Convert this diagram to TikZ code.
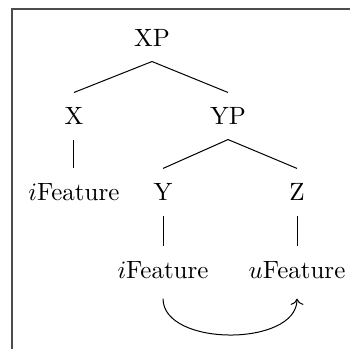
\documentclass[tikz,border=0pt]{standalone}
\usetikzlibrary{arrows.meta, positioning}

\begin{document}
\begin{tikzpicture}[
    label_node/.style={
        inner sep=5.8pt,
        font=\normalsize
    },
    branch/.style={
        thin,
        #1
    },
    agree/.style={
        ->,
        thin,
        shorten <=2pt,
        shorten >=2pt
    },
    frame_line/.style={
        line width=0.8pt,
        draw=black!70
    },
]
\useasboundingbox (0,0) rectangle (4.921,-4.907);

% frame
\draw[frame_line] (0.169,-4.907) -- (0.169,-0.120) -- (4.921,-0.120);

\node[label_node] (xp) at (2.137,-0.534) {XP};

\node[label_node] (x) at (1.040,-1.631) {X};
\node[label_node] (yp) at (3.206,-1.631) {YP};

\node[label_node] (ifeat1) at (1.040,-2.699) {$i$Feature};
\node[label_node] (y) at (2.292,-2.699) {Y};
\node[label_node] (z) at (4.176,-2.699) {Z};

\node[label_node] (ifeat2) at (2.292,-3.796) {$i$Feature};
\node[label_node] (ufeat) at (4.176,-3.796) {$u$Feature};

% tree branches
\draw[branch] (xp.south) -- (x.north);
\draw[branch] (xp.south) -- (yp.north);
\draw[branch] (x.south) -- (ifeat1.north);
\draw[branch] (yp.south) -- (y.north);
\draw[branch] (yp.south) -- (z.north);
\draw[branch] (y.south) -- (ifeat2.north);
\draw[branch] (z.south) -- (ufeat.north);

% feature arrow
\draw[agree] (ifeat2.south) .. controls +(0,-0.75) and +(0,-0.75) .. (ufeat.south);

\end{tikzpicture}
\end{document}
